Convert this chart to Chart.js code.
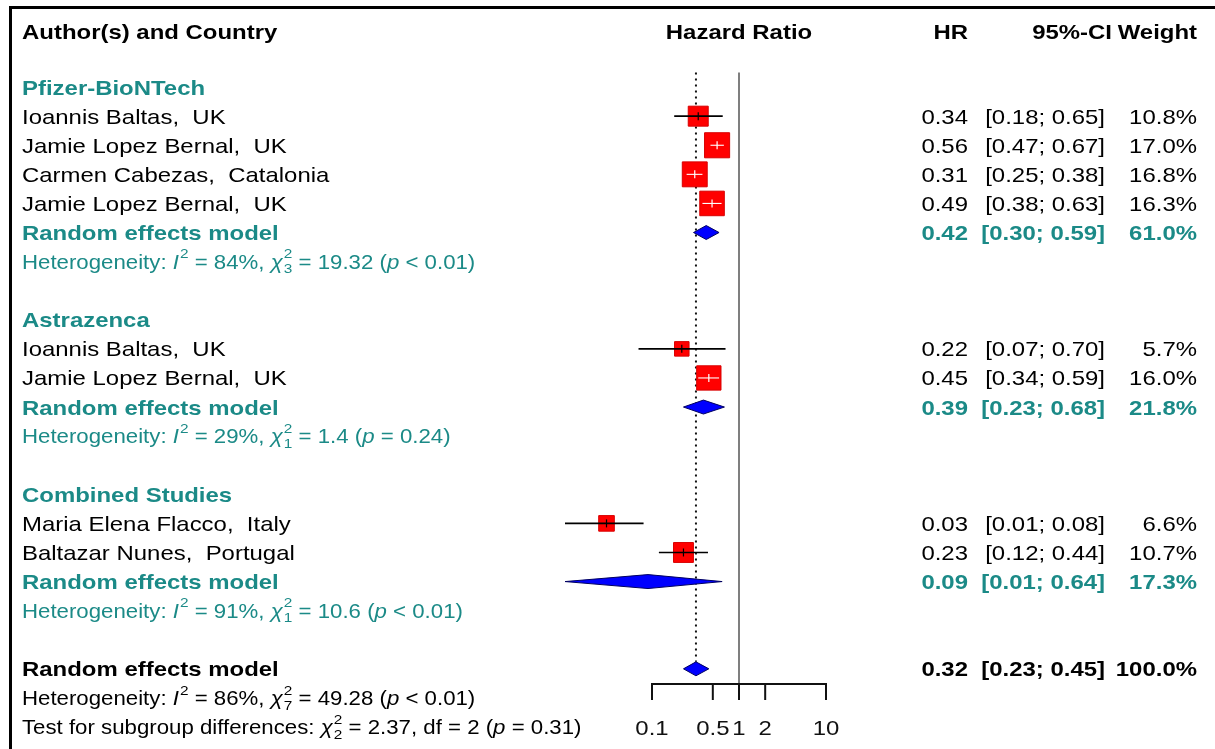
<!DOCTYPE html>
<html>
<head>
<meta charset="utf-8">
<script src="https://cdn.jsdelivr.net/npm/chart.js@4/dist/chart.umd.min.js"></script>
<style>
  html, body { margin: 0; background: #fff; }
  #wrap { width: 1215px; height: 749px; position: relative; }
</style>
</head>
<body>
<div id="wrap"><canvas id="forest"></canvas></div>
<script>
// ── Data ─────────────────────────────────────────────────

const groupNames = ['Pfizer-BioNTech', 'Astrazenca', 'Combined Studies'];
const groupRows  = [1, 9, 15];

const studyNames  = ['Ioannis Baltas,  UK', 'Jamie Lopez Bernal,  UK', 'Carmen Cabezas,  Catalonia',
                     'Jamie Lopez Bernal,  UK', 'Ioannis Baltas,  UK', 'Jamie Lopez Bernal,  UK',
                     'Maria Elena Flacco,  Italy', 'Baltazar Nunes,  Portugal'];
const studyRows   = [2, 3, 4, 5, 10, 11, 16, 17];
const studyHR     = [0.34, 0.56, 0.31, 0.49, 0.22, 0.45, 0.03, 0.23];
const studyLo     = [0.18, 0.47, 0.25, 0.38, 0.07, 0.34, 0.01, 0.12];
const studyHi     = [0.65, 0.67, 0.38, 0.63, 0.70, 0.59, 0.08, 0.44];
const studyWeight = [10.8, 17.0, 16.8, 16.3, 5.7, 16.0, 6.6, 10.7];

const modelRows   = [6, 12, 18];
const modelHR     = [0.42, 0.39, 0.09];
const modelLo     = [0.30, 0.23, 0.01];
const modelHi     = [0.59, 0.68, 0.64];
const modelWeight = [61.0, 21.8, 17.3];

const hetRows = [7, 13, 19];
const hetI2   = [84, 29, 91];
const hetDf   = [3, 1, 1];
const hetQ    = ['19.32', '1.4', '10.6'];
const hetP    = ['< 0.01', '= 0.24', '< 0.01'];

const overallRow    = 21;
const overallHR     = 0.32;
const overallLo     = 0.23;
const overallHi     = 0.45;
const overallWeight = 100.0;
const overallI2 = 86, overallDf = 7, overallQ = '49.28', overallP = '< 0.01';
const testQ = '2.37', testDf = 2, testP = '= 0.31';

const tickValues = [0.1, 0.5, 1, 2, 10];
const tickLabels = ['0.1', '0.5', '1', '2', '10'];

// ── Style ────────────────────────────────────────────────

const TEAL = '#1b8a87';
const FONT = '"Liberation Sans", Arial, Helvetica, sans-serif';
const SX = 1.14;            // the reference text is a bit wide
const HEADER_ROW = -0.9;
const LINE_TOP = 0.5;
const AXIS_ROW = 21.52;
const TICK_ROW = 22.07;
const LABEL_ROW = 23;
const DIAMOND_H = 0.24;

const boxRadius = w => 4.3 * Math.sqrt(w);
const fmt = v => v.toFixed(2);
const ci = (lo, hi) => `[${fmt(lo)}; ${fmt(hi)}]`;

// CI fits inside its box -> drawn white
function insideBox(chart, i) {
  const xs = chart.scales.x;
  if (!xs) return false;
  const span = xs.getPixelForValue(studyHi[i]) - xs.getPixelForValue(studyLo[i]);
  return span < Math.SQRT2 * boxRadius(studyWeight[i]);
}

// ── Datasets ─────────────────────────────────────────────

function diamond(hr, lo, hi, row) {
  return {
    data: [
      { x: lo, y: row }, { x: hr, y: row - DIAMOND_H },
      { x: hi, y: row }, { x: hr, y: row + DIAMOND_H }, { x: lo, y: row }
    ],
    showLine: true, fill: 'shape', pointRadius: 0, borderWidth: 1,
    borderColor: '#000060', backgroundColor: '#0000ff', order: 4
  };
}

const datasets = [];

// reference line at 1
datasets.push({
  data: [{ x: 1, y: LINE_TOP }, { x: 1, y: AXIS_ROW }],
  showLine: true, pointRadius: 0, borderColor: '#555', borderWidth: 1.5, order: 10
});
// overall estimate dotted line
datasets.push({
  data: [{ x: overallHR, y: LINE_TOP }, { x: overallHR, y: overallRow - DIAMOND_H }],
  showLine: true, pointRadius: 0, borderColor: '#111', borderWidth: 2,
  borderDash: [2, 4], order: 9
});
// study boxes
datasets.push({
  data: studyHR.map((v, i) => ({ x: v, y: studyRows[i] })),
  pointStyle: 'rect',
  pointRadius: studyWeight.map(boxRadius),
  backgroundColor: '#ff0000', borderColor: '#d80000', borderWidth: 1, order: 5
});
// confidence intervals
studyHR.forEach((v, i) => {
  datasets.push({
    data: [{ x: studyLo[i], y: studyRows[i] }, { x: studyHi[i], y: studyRows[i] }],
    showLine: true, pointRadius: 0, order: 1,
    borderWidth: ctx => insideBox(ctx.chart, i) ? 1.1 : 1.6,
    borderColor: ctx => insideBox(ctx.chart, i) ? '#fff' : '#000'
  });
});
// small vertical mark at each estimate
datasets.push({
  data: studyHR.map((v, i) => ({ x: v, y: studyRows[i] })),
  pointStyle: 'line', rotation: 90, pointRadius: 4, borderWidth: 1.2, order: 0,
  borderColor: ctx => insideBox(ctx.chart, ctx.dataIndex) ? '#fff' : '#000'
});
// pooled estimates
modelHR.forEach((v, i) => datasets.push(diamond(v, modelLo[i], modelHi[i], modelRows[i])));
datasets.push(diamond(overallHR, overallLo, overallHi, overallRow));

// ── Text and axis ────────────────────────────────────────

function txt(ctx, s, x, y, o = {}) {
  const size = o.size || 21;
  ctx.save();
  ctx.font = `${o.italic ? 'italic ' : ''}${o.bold ? 'bold ' : ''}${size}px ${FONT}`;
  ctx.fillStyle = o.color || '#000';
  ctx.textAlign = o.align || 'left';
  ctx.textBaseline = 'alphabetic';
  ctx.translate(x, y + size * 0.358);
  ctx.scale(SX, 1);
  ctx.fillText(s, 0, 0);
  const w = ctx.measureText(s).width * SX;
  ctx.restore();
  return w;
}

function rich(ctx, parts, x, y, color) {
  let cx = x;
  for (const p of parts) {
    if (p.sup !== undefined) {
      const w1 = txt(ctx, p.sup, cx + 1, y - 8, { size: 13.5, color });
      const w2 = p.sub !== undefined ? txt(ctx, p.sub, cx + 1, y + 7, { size: 13.5, color }) : 0;
      cx += Math.max(w1, w2) + 1;
    } else {
      cx += txt(ctx, p.t, cx, y, { size: 19.5, italic: p.it, color });
    }
  }
}

const hetParts = (i2, df, q, p) => [
  { t: 'Heterogeneity: ' }, { t: 'I', it: true }, { sup: '2' },
  { t: ` = ${i2}%, ` }, { t: 'χ', it: true }, { sup: '2', sub: String(df) },
  { t: ` = ${q} (` }, { t: 'p', it: true }, { t: ` ${p})` }
];

const forestText = {
  id: 'forestText',
  afterDatasetsDraw(chart) {
    const ctx = chart.ctx;
    const xs = chart.scales.x, ys = chart.scales.y;
    const Y = r => ys.getPixelForValue(r);
    const X = v => xs.getPixelForValue(v);
    const xHR = 968, xCI = 1105, xW = 1197;

    // frame
    ctx.save();
    ctx.fillStyle = '#000';
    ctx.fillRect(9, 6, chart.width - 9, 3);
    ctx.fillRect(9, 6, 3, chart.height - 6);
    ctx.restore();

    // header
    const hy = Y(HEADER_ROW);
    txt(ctx, 'Author(s) and Country', 22, hy, { bold: true });
    txt(ctx, 'Hazard Ratio', X(1), hy, { bold: true, align: 'center' });
    txt(ctx, 'HR', xHR, hy, { bold: true, align: 'right' });
    txt(ctx, '95%-CI', 1112, hy, { bold: true, align: 'right' });
    txt(ctx, 'Weight', xW, hy, { bold: true, align: 'right' });

    groupNames.forEach((g, i) => txt(ctx, g, 22, Y(groupRows[i]), { bold: true, color: TEAL }));

    studyNames.forEach((s, i) => {
      const y = Y(studyRows[i]);
      txt(ctx, s, 22, y);
      txt(ctx, fmt(studyHR[i]), xHR, y, { align: 'right' });
      txt(ctx, ci(studyLo[i], studyHi[i]), xCI, y, { align: 'right' });
      txt(ctx, studyWeight[i].toFixed(1) + '%', xW, y, { align: 'right' });
    });

    modelRows.forEach((r, i) => {
      const y = Y(r);
      const o = { bold: true, color: TEAL };
      txt(ctx, 'Random effects model', 22, y, o);
      txt(ctx, fmt(modelHR[i]), xHR, y, { ...o, align: 'right' });
      txt(ctx, ci(modelLo[i], modelHi[i]), xCI, y, { ...o, align: 'right' });
      txt(ctx, modelWeight[i].toFixed(1) + '%', xW, y, { ...o, align: 'right' });
      rich(ctx, hetParts(hetI2[i], hetDf[i], hetQ[i], hetP[i]), 22, Y(hetRows[i]), TEAL);
    });

    const oy = Y(overallRow);
    txt(ctx, 'Random effects model', 22, oy, { bold: true });
    txt(ctx, fmt(overallHR), xHR, oy, { bold: true, align: 'right' });
    txt(ctx, ci(overallLo, overallHi), xCI, oy, { bold: true, align: 'right' });
    txt(ctx, overallWeight.toFixed(1) + '%', xW, oy, { bold: true, align: 'right' });
    rich(ctx, hetParts(overallI2, overallDf, overallQ, overallP), 22, Y(overallRow + 1), '#000');
    rich(ctx, [
      { t: 'Test for subgroup differences: ' }, { t: 'χ', it: true }, { sup: '2', sub: String(testDf) },
      { t: ` = ${testQ}, df = ${testDf} (` }, { t: 'p', it: true }, { t: ` ${testP})` }
    ], 22, Y(overallRow + 2), '#000');

    // x axis, only over the tick range
    const ya = Y(AXIS_ROW), yt = Y(TICK_ROW);
    ctx.save();
    ctx.strokeStyle = '#111';
    ctx.lineWidth = 2;
    ctx.beginPath();
    ctx.moveTo(X(tickValues[0]), ya);
    ctx.lineTo(X(tickValues[tickValues.length - 1]), ya);
    tickValues.forEach(v => { ctx.moveTo(X(v), ya - 1); ctx.lineTo(X(v), yt); });
    ctx.stroke();
    ctx.restore();
    tickValues.forEach((v, i) => txt(ctx, tickLabels[i], X(v), Y(LABEL_ROW), { align: 'center', color: '#111' }));
  }
};

// ── Chart ────────────────────────────────────────────────

new Chart(document.getElementById('forest'), {
  type: 'scatter',
  data: { datasets },
  options: {
    responsive: true,
    maintainAspectRatio: false,
    animation: false,
    layout: { padding: { left: 478, right: 302, top: 58, bottom: 22 } },
    plugins: { legend: { display: false }, tooltip: { enabled: false } },
    elements: { line: { tension: 0 } },
    scales: {
      x: { type: 'logarithmic', min: 0.001, max: 100, display: false },
      y: { type: 'linear', min: 0, max: 23, reverse: true, display: false }
    }
  },
  plugins: [forestText]
});
</script>
</body>
</html>
